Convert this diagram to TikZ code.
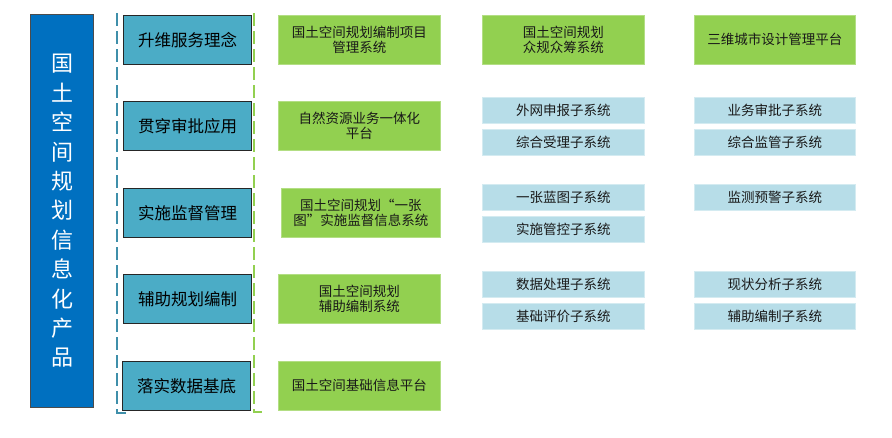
\documentclass[tikz,border=0pt]{standalone}
\usepackage{fontspec}
\setmainfont{Noto Sans CJK SC}
\definecolor{bigblue}{HTML}{0070C0}
\definecolor{teal}{HTML}{4BACC6}
\definecolor{lgreen}{HTML}{92D050}
\definecolor{lblue}{HTML}{B7DDE8}
\definecolor{dashblue}{HTML}{3F8FAA}
\begin{document}
\begin{tikzpicture}[x=1pt,y=-1pt,
  bigbox/.style={draw=black!70, fill=bigblue, line width=1pt, inner sep=0pt, anchor=north west,
    text=white, align=center, font=\fontsize{22}{29.4}\selectfont},
  catbox/.style={draw=black!85, fill=teal, line width=1pt, inner sep=0pt, anchor=north west,
    minimum width=128pt, minimum height=49pt, font=\fontsize{16.5}{20}\selectfont},
  sysbox/.style={draw=lgreen!70!white, fill=lgreen, line width=0.6pt, inner sep=0pt, anchor=north west,
    minimum height=49pt, align=center, text=black!90, font=\fontsize{13.5}{15.5}\selectfont},
  subbox/.style={draw=lblue!60!white, fill=lblue, line width=0.6pt, inner sep=0pt, anchor=north west,
    minimum height=26pt, text=black!90, font=\fontsize{13.5}{15.5}\selectfont},
  dashline/.style={line width=1.8pt, dash pattern=on 13pt off 5pt}
]
\useasboundingbox (0,0) rectangle (892,437);

% big left box
\node[bigbox, minimum width=63pt, minimum height=393pt] (big) at (30,14) {国\\土\\空\\间\\规\\划\\信\\息\\化\\产\\品};

% dashed brackets
\coordinate (bt) at (117,13);
\coordinate (bb) at (117,413);
\coordinate (be) at (127,413);
\coordinate (gt) at (254,13);
\coordinate (gb) at (254,412);
\coordinate (ge) at (262,412);
\draw[dashline, draw=dashblue] (bt) -- (bb) -- (be);
\draw[dashline, draw=lgreen] (gt) -- (gb) -- (ge);

% category boxes
\node[catbox] (c1) at (123,15) {升维服务理念};
\node[catbox] (c2) at (123,101) {贯穿审批应用};
\node[catbox] (c3) at (123,188) {实施监督管理};
\node[catbox] (c4) at (123,274) {辅助规划编制};
\node[catbox] (c5) at (122,361) {落实数据基底};

% system boxes column 1
\node[sysbox, minimum width=162pt] (s1) at (278,15) {国土空间规划编制项目\\管理系统};
\node[sysbox, minimum width=162pt] (s2) at (278,101) {自然资源业务一体化\\平台};
\node[sysbox, minimum width=159pt] (s3) at (281,188) {国土空间规划“一张\\图”实施监督信息系统};
\node[sysbox, minimum width=162pt] (s4) at (278,274) {国土空间规划\\辅助编制系统};
\node[sysbox, minimum width=162pt] (s5) at (278,361) {国土空间基础信息平台};

% column 2
\node[sysbox, minimum width=162pt] (s6) at (482,15) {国土空间规划\\众规众筹系统};
\node[subbox, minimum width=162pt] (a1) at (482,97) {外网申报子系统};
\node[subbox, minimum width=162pt] (a2) at (482,129) {综合受理子系统};
\node[subbox, minimum width=162pt] (a3) at (482,184) {一张蓝图子系统};
\node[subbox, minimum width=162pt] (a4) at (482,216) {实施管控子系统};
\node[subbox, minimum width=162pt] (a5) at (482,271) {数据处理子系统};
\node[subbox, minimum width=162pt] (a6) at (482,303) {基础评价子系统};

% column 3
\node[sysbox, minimum width=161pt] (s7) at (694,15) {三维城市设计管理平台};
\node[subbox, minimum width=161pt] (b1) at (694,97) {业务审批子系统};
\node[subbox, minimum width=161pt] (b2) at (694,129) {综合监管子系统};
\node[subbox, minimum width=161pt] (b3) at (694,184) {监测预警子系统};
\node[subbox, minimum width=161pt] (b5) at (694,271) {现状分析子系统};
\node[subbox, minimum width=161pt] (b6) at (694,303) {辅助编制子系统};
\end{tikzpicture}
\end{document}
